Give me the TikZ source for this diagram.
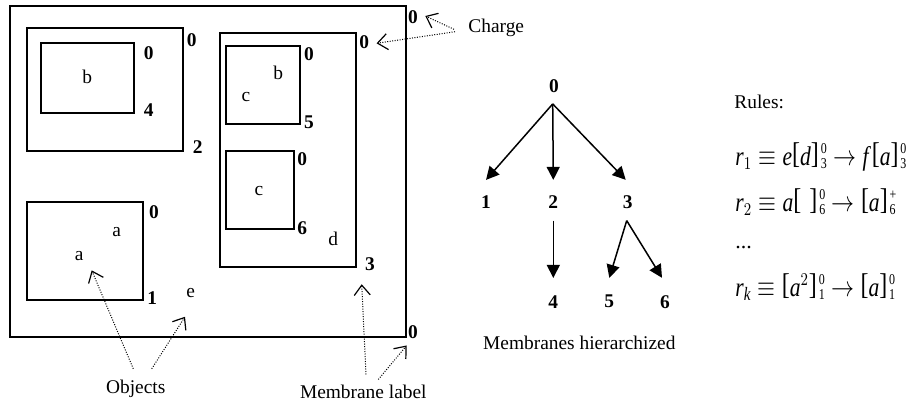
\documentclass[tikz,border=0pt]{standalone}
\usepackage{fontspec}
\setmainfont{Liberation Serif}
\usetikzlibrary{arrows.meta,calc}
\newcommand\chgstack[2]{\mathord{\raisebox{-1.6pt}{\fontsize{7.5}{7.3}\selectfont\begin{tabular}[b]{@{}l@{}}#1\\#2\end{tabular}}}}
\newcommand\bopen{\mathopen{\raisebox{0.9pt}{\fontsize{15}{15}\selectfont[}}}
\newcommand\bclose{\mathclose{\raisebox{0.9pt}{\fontsize{15}{15}\selectfont]}}}
\newcommand\brk[3]{\bopen#1\bclose\mkern1.5mu\chgstack{#2}{#3}}
\newsavebox\eqboxA
\newsavebox\eqboxB
\newsavebox\eqboxC
\newlength\eqw
\begin{document}
\sbox\eqboxA{\fontsize{13.5}{15}\selectfont$\mathit{r}_1 \equiv \mathit{e}\brk{\mathit{d}}{0}{3} \rightarrow \mathit{f}\mkern2.5mu\brk{\mathit{a}}{0}{3}$}%
\sbox\eqboxB{\fontsize{13.5}{15}\selectfont$\mathit{r}_2 \equiv \mathit{a}\brk{\hbox to 5pt{}}{0}{6} \rightarrow \brk{\mathit{a}}{+}{6}$}%
\sbox\eqboxC{\fontsize{13.5}{15}\selectfont$\mathit{r}_{\mathit{k}} \equiv \brk{\mathit{a}^2}{0}{1} \rightarrow \brk{\mathit{a}}{0}{1}$}%
\setlength\eqw{\wd\eqboxA}%
\pgfmathsetmacro\eqsc{85.5pt/\eqw}%
\begin{tikzpicture}[x=0.5pt,y=-0.5pt,
  mem/.style={draw, line width=1pt},
  lbl/.style={inner sep=0pt, font=\fontsize{9.7}{11}\selectfont\bfseries},
  obj/.style={inner sep=0pt, font=\fontsize{9.7}{11}\selectfont},
  txt/.style={inner sep=0pt, font=\fontsize{9.7}{11}\selectfont},
  eq/.style={inner sep=0pt, anchor=base west},
  pointer/.style={line width=0.5pt, dash pattern=on 0.5pt off 0.75pt,
    -{Straight Barb[length=5pt,width=8pt,line width=0.6pt]}},
  tree/.style={line width=0.75pt, -{Triangle[length=6.5pt,width=6.5pt]}},
]
\useasboundingbox (0,0) rectangle (908,408);

% membranes
\draw[mem] (10,5.7) rectangle (405.7,337.3);
\draw[mem] (26.7,27.7) rectangle (183.3,150.7);
\draw[mem] (41.3,42.7) rectangle (134,113.3);
\draw[mem] (26.7,202.3) rectangle (143.3,300);
\draw[mem] (220,33.3) rectangle (356,267.3);
\draw[mem] (226,45.7) rectangle (300,123.7);
\draw[mem] (226,150.7) rectangle (294,228.7);

% membrane labels and charges
\node[lbl] (c0a) at (413,17) {0};
\node[lbl] (c0b) at (413,332) {0};
\node[lbl] (c2) at (191.7,40) {0};
\node[lbl] (m2) at (197.7,147.3) {2};
\node[lbl] (c4) at (148.7,52.7) {0};
\node[lbl] (m4) at (148.7,110) {4};
\node[lbl] (c1) at (154,212.3) {0};
\node[lbl] (m1) at (152.3,297.7) {1};
\node[lbl] (c3) at (364.3,42.3) {0};
\node[lbl] (m3) at (370,264.3) {3};
\node[lbl] (c5) at (309,54) {0};
\node[lbl] (m5) at (309,122.3) {5};
\node[lbl] (c6) at (302.3,159.3) {0};
\node[lbl] (m6) at (302.3,228.3) {6};

% objects
\node[obj] (ob1) at (87.3,77.3) {b};
\node[obj] (oa1) at (116.7,232.3) {a};
\node[obj] (oa2) at (79.3,256) {a};
\node[obj] (oe) at (190.7,292.7) {e};
\node[obj] (od) at (333.3,239.3) {d};
\node[obj] (ob2) at (278.3,73.3) {b};
\node[obj] (oc1) at (246,96.7) {c};
\node[obj] (oc2) at (259,191) {c};

% annotation texts
\node[txt, anchor=west] (charge) at (468,28.3) {Charge};
\node[txt] (objects) at (135.7,389) {Objects};
\node[txt] (mlabel) at (363.3,391.7) {Membrane label};
\node[txt] (hier) at (579.3,342.7) {Membranes hierarchized};

% pointer arrows
\coordinate (chT) at ($(charge.west)+(-14,1)$);
\coordinate (chT2) at ($(charge.west)+(-13,3.4)$);
\draw[pointer] (chT) -- ($(c0a.east)+(7,-1)$);
\draw[pointer] (chT2) -- ($(c3.east)+(7,1)$);
\coordinate (obA) at ($(objects.north)+(-2.4,-11)$);
\coordinate (obB) at ($(objects.north)+(16,-11)$);
\draw[pointer] (obA) -- ($(oa2.south)+(12.4,9.3)$);
\draw[pointer] (obB) -- ($(oe.south)+(-5.7,19)$);
\coordinate (mlA) at ($(mlabel.north)+(2.7,-10)$);
\coordinate (mlB) at ($(mlabel.north)+(15,-5)$);
\draw[pointer] (mlA) -- ($(m3.south)+(-8.3,13)$);
\draw[pointer] (mlB) -- ($(c0b.south)+(-6.3,6.5)$);

% hierarchy tree
\node[lbl] (n0) at (554,86) {0};
\node[lbl] (n1) at (486,201.7) {1};
\node[lbl] (n2) at (553.3,201.7) {2};
\node[lbl] (n3) at (627.7,201.7) {3};
\node[lbl] (n4) at (553.3,301.7) {4};
\node[lbl] (n5) at (609.3,301.7) {5};
\node[lbl] (n6) at (665,301.7) {6};
\coordinate (fork0) at ($(n0.south)+(-1.3,11)$);
\coordinate (fork3) at ($(n3.south)+(-1,12)$);
\coordinate (fork2) at ($(n2.south)+(0,12)$);
\draw[tree] (fork0) -- ($(n1.north)+(0,-15)$);
\draw[tree] (fork0) -- ($(n2.north)+(0,-15)$);
\draw[tree] (fork0) -- ($(n3.north)+(-2,-15)$);
\draw[tree] (fork2) -- ($(n4.north)+(0,-17)$);
\draw[tree] (fork3) -- ($(n5.north)+(0,-17)$);
\draw[tree] (fork3) -- ($(n6.north)+(-3,-17)$);

% rules
\node[txt, anchor=base west] (rules) at (734,108.3) {Rules:};
\node[eq] (r1) at (735,165) {\scalebox{\eqsc}[1]{\usebox\eqboxA}};
\node[eq] (r2) at (735,211) {\scalebox{\eqsc}[1]{\usebox\eqboxB}};
\node[eq, font=\fontsize{11}{13}\selectfont] (rdots) at (735,248) {...};
\node[eq] (rk) at (735,296) {\scalebox{\eqsc}[1]{\usebox\eqboxC}};
\end{tikzpicture}
\end{document}
